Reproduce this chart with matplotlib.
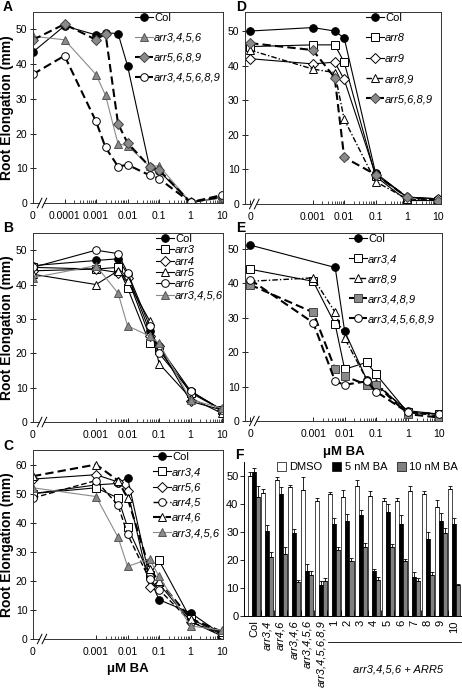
import numpy as np
import matplotlib
matplotlib.use('Agg')
import matplotlib.pyplot as plt

plt.rcParams['font.family'] = ['Liberation Sans', 'DejaVu Sans']
plt.rcParams['axes.linewidth'] = 0.7

# ---- data (root elongation, mm) ----
A_conc = [0, 0.0001, 0.001, 0.002, 0.005, 0.01, 0.05, 0.1, 1, 10]
A_col = [43.5, 51.0, 48.4, 49.0, 48.8, 39.5, 10.4, 9.2, 0.2, 1.5]
A_arr3456 = [48.0, 47.0, 37.0, 31.0, 17.0, 16.5, 10.6, 10.7, 0.2, 1.5]
A_arr5689 = [47.0, 51.5, 47.0, 48.8, 22.8, 17.3, 10.5, 9.5, 0.2, 1.8]
A_arr345689 = [37.1, 42.4, 23.5, 16.0, 10.5, 11.0, 8.0, 7.0, 0.2, 2.3]

B_conc = [0, 0.001, 0.005, 0.01, 0.05, 0.1, 1, 10]
B_col = [45.5, 47.0, 47.5, 43.0, 26.5, 22.0, 9.0, 3.5]
B_arr3 = [45.0, 44.5, 45.0, 39.0, 23.0, 21.0, 8.5, 3.5]
B_arr4 = [44.0, 44.5, 43.5, 42.0, 25.0, 22.0, 6.0, 3.5]
B_arr5 = [43.0, 40.0, 44.0, 41.0, 29.5, 17.0, 7.0, 2.5]
B_arr6 = [45.0, 50.0, 49.0, 43.5, 28.0, 20.0, 9.0, 3.5]
B_arr3456 = [42.0, 45.5, 37.5, 28.0, 25.0, 23.0, 6.5, 4.0]

C_conc = [0, 0.001, 0.005, 0.01, 0.05, 0.1, 1, 10]
C_col = [50.0, 53.0, 53.5, 55.5, 21.0, 13.5, 9.0, 1.5]
C_arr34 = [50.0, 52.0, 48.5, 38.5, 22.0, 27.0, 7.0, 1.5]
C_arr56 = [55.0, 56.5, 54.0, 51.0, 18.0, 19.0, 6.0, 1.0]
C_arr45 = [48.5, 54.5, 46.0, 36.0, 20.5, 17.0, 6.0, 1.5]
C_arr46 = [56.0, 60.0, 54.5, 48.5, 24.0, 20.0, 7.0, 2.5]
C_arr3456 = [52.0, 49.0, 35.0, 25.0, 27.5, 21.5, 4.5, 3.0]

D_conc = [0, 0.001, 0.005, 0.01, 0.1, 1, 10]
D_col = [50.0, 51.0, 50.0, 48.0, 9.0, 2.0, 1.5]
D_arr8 = [45.5, 46.0, 46.0, 41.0, 8.0, 1.0, 1.0]
D_arr9 = [42.0, 40.5, 41.0, 36.0, 8.5, 2.0, 1.5]
D_arr89 = [44.5, 39.0, 38.0, 24.5, 6.5, 1.5, 1.0]
D_arr5689 = [46.5, 44.5, 36.5, 13.5, 8.5, 2.0, 1.0]

E_conc = [0, 0.001, 0.005, 0.01, 0.05, 0.1, 1, 10]
E_col_conc = [0, 0.005, 0.01, 0.05, 0.1, 1, 10]
E_col = [51.0, 44.5, 26.0, 12.0, 10.5, 3.0, 2.0]
E_arr34 = [44.0, 40.5, 28.0, 15.0, 17.0, 13.5, 2.5, 2.0]
E_arr89 = [40.5, 41.5, 31.5, 24.0, 12.0, 11.0, 2.5, 1.5]
E_arr3489 = [39.5, 31.5, 15.0, 13.0, 10.5, 10.5, 2.0, 1.0]
E_arr345689 = [41.0, 28.5, 11.5, 10.5, 11.5, 8.5, 2.5, 2.0]

F_labels = ['Col', 'arr3,4', 'arr4,6', 'arr3,4,6', 'arr3,4,5,6', 'arr3,4,5,6,8,9',
            '1', '2', '3', '4', '5', '6', '7', '8', '9', '10']
F_dmso = [50.0, 44.0, 48.5, 46.0, 45.0, 41.0, 43.5, 42.5, 46.5, 43.0, 41.0, 41.0, 44.5, 43.5, 39.0, 45.5]
F_ba5 = [51.5, 30.5, 43.5, 29.5, 16.0, 11.0, 33.0, 34.0, 36.0, 16.0, 37.0, 33.0, 14.0, 27.5, 34.0, 33.0]
F_ba10 = [42.5, 21.0, 22.0, 12.0, 14.5, 12.5, 23.5, 19.5, 24.5, 13.0, 24.5, 19.5, 12.5, 14.5, 29.5, 11.0]
F_dmso_err = [1.5, 1.5, 1.2, 0.8, 4.5, 1.0, 0.8, 2.5, 2.0, 1.8, 1.2, 1.2, 2.0, 1.2, 2.5, 0.8]
F_ba5_err = [1.5, 2.0, 2.5, 1.5, 2.5, 1.5, 2.0, 2.5, 2.0, 0.8, 3.0, 3.0, 1.8, 2.5, 2.8, 2.0]
F_ba10_err = [4.0, 2.0, 2.5, 0.8, 1.5, 1.2, 1.2, 1.2, 1.5, 0.8, 1.2, 1.0, 1.0, 1.2, 2.0, 0.5]

ZERO = 1e-5  # where the "0" concentration sits on the broken log axis
GRAY = '#8a8a8a'

# line styles
thin = dict(color='k', lw=0.8, ls='-')
thin_gray = dict(color=GRAY, lw=0.8, ls='-')
dash_thick = dict(color='k', lw=1.5, ls=(0, (4, 2)))
dash_med = dict(color='k', lw=1.0, ls=(0, (4, 2)))
dash_dot = dict(color='k', lw=1.0, ls=(0, (4, 1.5, 1, 1.5)))

def mk(m, fc, ec='k', ms=5.5):
    return dict(marker=m, mfc=fc, mec=ec, ms=ms, mew=0.7)

FW, FH = 462, 693
fig = plt.figure(figsize=(FW / 100, FH / 100), dpi=100)

def add_ax(l, r, t, b):
    return fig.add_axes([l / FW, 1 - b / FH, (r - l) / FW, (b - t) / FH])

def line_panel(ax, series, ymax, xlim, first_tick, yticks):
    for conc, vals, lab, ls, m in series:
        x = [ZERO if c == 0 else c for c in conc]
        ax.plot(x, vals, label=lab, **ls, **m)
    ax.set_xscale('log')
    ax.set_xlim(*xlim)
    ax.set_ylim(0, ymax)
    majors = [ZERO] + [10.0 ** k for k in range(int(np.log10(first_tick)), 2)]
    ax.set_xticks(majors)
    ax.set_xticklabels(['0'] + ['%g' % v for v in majors[1:]])
    minors = [d * 10.0 ** k for k in range(int(np.log10(first_tick)), 1) for d in range(2, 10)]
    ax.set_xticks(minors, minor=True)
    ax.tick_params(axis='x', which='major', direction='in', length=3, width=0.6,
                   labelsize=7.5, pad=6)
    ax.tick_params(axis='x', which='minor', direction='in', length=2, width=0.5)
    ax.set_yticks(yticks)
    ax.tick_params(axis='y', direction='inout', length=4, width=0.6, labelsize=7.5, pad=2)
    for s in ax.spines.values():
        s.set_color('#333333')
    # axis break marks
    for dx in (0.035, 0.06):
        ax.plot([dx - 0.012, dx + 0.012], [-0.025, 0.025], transform=ax.transAxes,
                color='k', lw=0.7, clip_on=False, zorder=5)
    ax.plot([0.04, 0.055], [0, 0], transform=ax.transAxes, color='white', lw=1.5,
            clip_on=False, zorder=4)

def put_legend(ax, left, top, spacing):
    leg = ax.legend(loc='upper left', bbox_to_anchor=(left / FW, 1 - top / FH),
                    bbox_transform=fig.transFigure, frameon=False, fontsize=8,
                    handlelength=1.6, handletextpad=0.1, borderpad=0, borderaxespad=0,
                    labelspacing=spacing)
    for t in leg.get_texts():
        if t.get_text() != 'Col':
            t.set_fontstyle('italic')

lim_abc = (ZERO, 10.7)
lim_de = (6.9e-6, 12.2)

# ---- A ----
axA = add_ax(33, 223, 12, 203)
line_panel(axA, [
    (A_conc, A_col, 'Col', thin, mk('o', 'k')),
    (A_conc, A_arr3456, 'arr3,4,5,6', thin_gray, mk('^', GRAY, '#555555')),
    (A_conc, A_arr5689, 'arr5,6,8,9', dash_thick, mk('D', GRAY, '#444444', 4.6)),
    (A_conc, A_arr345689, 'arr3,4,5,6,8,9', dash_thick, mk('o', 'white')),
], 55, lim_abc, 1e-4, range(0, 51, 10))
put_legend(axA, 135, 13, 0.9)

# ---- B ----
axB = add_ax(33, 223, 233, 422)
line_panel(axB, [
    (B_conc, B_col, 'Col', thin, mk('o', 'k')),
    (B_conc, B_arr3, 'arr3', thin, mk('s', 'white', 'k', 6)),
    (B_conc, B_arr4, 'arr4', thin, mk('D', 'white', 'k', 4.6)),
    (B_conc, B_arr5, 'arr5', thin, mk('^', 'white')),
    (B_conc, B_arr6, 'arr6', thin, mk('o', 'white')),
    (B_conc, B_arr3456, 'arr3,4,5,6', thin_gray, mk('^', GRAY, '#555555')),
], 55, lim_abc, 1e-3, range(0, 51, 10))
put_legend(axB, 156, 234, 0.12)

# ---- C ----
axC = add_ax(33, 223, 450, 639)
line_panel(axC, [
    (C_conc, C_col, 'Col', thin, mk('o', 'k')),
    (C_conc, C_arr34, 'arr3,4', thin, mk('s', 'white', 'k', 6)),
    (C_conc, C_arr56, 'arr5,6', thin, mk('D', 'white', 'k', 4.6)),
    (C_conc, C_arr45, 'arr4,5', dash_med, mk('o', 'white')),
    (C_conc, C_arr46, 'arr4,6', dash_thick, mk('^', 'white')),
    (C_conc, C_arr3456, 'arr3,4,5,6', thin_gray, mk('^', GRAY, '#555555')),
], 65, lim_abc, 1e-3, range(0, 61, 10))
put_legend(axC, 153, 452, 0.47)
axC.set_xlabel('\u03bcM BA', fontsize=9.5, fontweight='bold', labelpad=4)

# ---- D ----
axD = add_ax(245, 441, 12, 204)
line_panel(axD, [
    (D_conc, D_col, 'Col', thin, mk('o', 'k')),
    (D_conc, D_arr8, 'arr8', thin, mk('s', 'white', 'k', 6)),
    (D_conc, D_arr9, 'arr9', thin, mk('D', 'white', 'k', 4.6)),
    (D_conc, D_arr89, 'arr8,9', dash_dot, mk('^', 'white')),
    (D_conc, D_arr5689, 'arr5,6,8,9', dash_thick, mk('D', GRAY, '#444444', 4.6)),
], 55.5, lim_de, 1e-3, range(0, 51, 10))
put_legend(axD, 366, 13, 0.93)

# ---- E ----
axE = add_ax(245, 442, 233, 421)
line_panel(axE, [
    (E_col_conc, E_col, 'Col', thin, mk('o', 'k')),
    (E_conc, E_arr34, 'arr3,4', thin, mk('s', 'white', 'k', 6)),
    (E_conc, E_arr89, 'arr8,9', dash_dot, mk('^', 'white')),
    (E_conc, E_arr3489, 'arr3,4,8,9', dash_thick, mk('s', GRAY, '#444444', 6)),
    (E_conc, E_arr345689, 'arr3,4,5,6,8,9', dash_thick, mk('o', 'white')),
], 54.5, lim_de, 1e-3, range(0, 51, 10))
put_legend(axE, 349, 234, 0.9)
axE.set_xlabel('\u03bcM BA', fontsize=9.5, fontweight='bold', labelpad=5)

for ax in (axA, axB, axC):
    ax.set_ylabel('Root Elongation (mm)', fontsize=10, fontweight='bold', labelpad=1)

# ---- F ----
axF = add_ax(244, 461, 462, 616)
xi = np.arange(len(F_labels))
w = 0.3
for off, vals, err, fc, lab in [(-w, F_dmso, F_dmso_err, 'white', 'DMSO'),
                                (0, F_ba5, F_ba5_err, 'black', '5 nM BA'),
                                (w, F_ba10, F_ba10_err, '#808080', '10 nM BA')]:
    axF.bar(xi + off, vals, w, color=fc, edgecolor='k', lw=0.5, label=lab)
    axF.errorbar(xi + off, vals, yerr=[np.zeros(len(err)), err], fmt='none',
                 ecolor='k', elinewidth=0.6, capsize=1.2, capthick=0.6)
axF.set_xlim(-0.75, len(F_labels) - 0.5)
axF.set_ylim(0, 55)
axF.set_yticks(range(0, 51, 10))
axF.spines['top'].set_visible(False)
axF.spines['right'].set_visible(False)
axF.set_xticks(xi)
axF.set_xticklabels(F_labels, rotation=90, fontsize=8)
for t in axF.get_xticklabels():
    if t.get_text().startswith('arr'):
        t.set_fontstyle('italic')
axF.set_xticks(xi[:-1] + 0.5, minor=True)
axF.tick_params(axis='x', which='major', length=0, pad=3)
axF.tick_params(axis='x', which='minor', direction='in', length=4, width=0.6)
axF.tick_params(axis='y', direction='out', length=3, width=0.6, labelsize=8, pad=1)
axF.legend(loc='upper left', bbox_to_anchor=(277 / FW, 1 - 462 / FH),
           bbox_transform=fig.transFigure, ncol=3, frameon=False, fontsize=8,
           handlelength=0.8, handleheight=0.8, handletextpad=0.3,
           columnspacing=0.9, borderpad=0, borderaxespad=0)
tr = axF.get_xaxis_transform()
axF.plot([5.55, len(F_labels) - 0.5], [-0.17, -0.17], transform=tr, color='k',
         lw=0.6, clip_on=False)
axF.text(10.8, -0.35, 'arr3,4,5,6 + ARR5', transform=tr, ha='center', va='center',
         fontsize=8, fontstyle='italic')

# panel letters
for lab, x, y in [('A', 3, 7), ('B', 3, 228), ('C', 3, 446), ('D', 236, 7),
                  ('E', 236, 228), ('F', 235, 455)]:
    fig.text(x / FW, 1 - y / FH, lab, fontsize=10, fontweight='bold', va='center')

fig.savefig('out.png', dpi=100)
